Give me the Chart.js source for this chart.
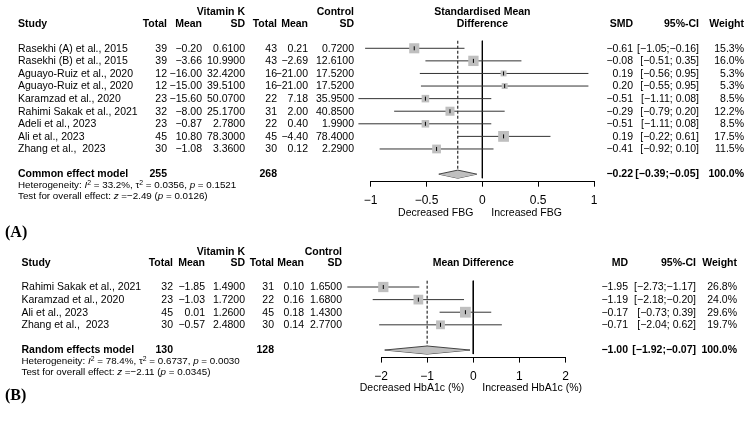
<!DOCTYPE html>
<html>
<head>
<meta charset="utf-8">
<script src="https://cdn.jsdelivr.net/npm/chart.js@4.4.0/dist/chart.umd.min.js"></script>
<style>
    body { margin: 0; background: #fff; }
    #wrap {
        position: relative; width: 749px; height: 426px; overflow: hidden;
        font-family: "Liberation Sans", Arial, sans-serif; color: #000;
    }
    canvas { position: absolute; left: 0; }
    .t { position: absolute; white-space: pre; line-height: 1; }
    .t sup { font-size: 0.7em; vertical-align: 0.5em; line-height: 0; }
</style>
</head>
<body>
<div id="wrap">
    <canvas id="chartA" width="749" height="240" style="top:0px"></canvas>
    <canvas id="chartB" width="749" height="186" style="top:240px"></canvas>
</div>
<script>
// --- Panel A: fasting blood glucose, standardised mean difference -------

const studiesA = ['Rasekhi (A) et al., 2015', 'Rasekhi (B) et al., 2015', 'Aguayo-Ruiz et al., 2020',
    'Aguayo-Ruiz et al., 2020', 'Karamzad et al., 2020', 'Rahimi Sakak et al., 2021',
    'Adeli et al., 2023', 'Ali et al., 2023', 'Zhang et al.,  2023'];
const vkTotalA = [39, 39, 12, 12, 23, 32, 23, 45, 30];
const vkMeanA = [-0.20, -3.66, -16.00, -15.00, -15.60, -8.00, -0.87, 10.80, -1.08];
const vkSdA = [0.61, 10.99, 32.42, 39.51, 50.07, 25.17, 2.78, 78.30, 3.36];
const ctTotalA = [43, 43, 16, 16, 22, 31, 22, 45, 30];
const ctMeanA = [0.21, -2.69, -21.00, -21.00, 7.18, 2.00, 0.40, -4.40, 0.12];
const ctSdA = [0.72, 12.61, 17.52, 17.52, 35.95, 40.85, 1.99, 78.40, 2.29];
const smdA = [-0.61, -0.08, 0.19, 0.20, -0.51, -0.29, -0.51, 0.19, -0.41];
const lowerA = [-1.05, -0.51, -0.56, -0.55, -1.11, -0.79, -1.11, -0.22, -0.92];
const upperA = [-0.16, 0.35, 0.95, 0.95, 0.08, 0.20, 0.08, 0.61, 0.10];
const weightA = [15.3, 16.0, 5.3, 5.3, 8.5, 12.2, 8.5, 17.5, 11.5];
const pooledA = [-0.22, -0.39, -0.05]; // estimate, lower, upper
const totalsA = [255, 268];
const hetA = ['33.2%', '0.0356', '0.1521'];
const testA = [-2.49, '0.0126'];
const ticksA = [-1, -0.5, 0, 0.5, 1];

// --- Panel B: HbA1c, mean difference ------------------------------------

const studiesB = ['Rahimi Sakak et al., 2021', 'Karamzad et al., 2020', 'Ali et al., 2023', 'Zhang et al.,  2023'];
const vkTotalB = [32, 23, 45, 30];
const vkMeanB = [-1.85, -1.03, 0.01, -0.57];
const vkSdB = [1.49, 1.72, 1.26, 2.48];
const ctTotalB = [31, 22, 45, 30];
const ctMeanB = [0.10, 0.16, 0.18, 0.14];
const ctSdB = [1.65, 1.68, 1.43, 2.77];
const mdB = [-1.95, -1.19, -0.17, -0.71];
const lowerB = [-2.73, -2.18, -0.73, -2.04];
const upperB = [-1.17, -0.20, 0.39, 0.62];
const weightB = [26.8, 24.0, 29.6, 19.7];
const pooledB = [-1.00, -1.92, -0.07];
const totalsB = [130, 128];
const hetB = ['78.4%', '0.6737', '0.0030'];
const testB = [-2.11, '0.0345'];
const ticksB = [-2, -1, 0, 1, 2];

// --- Helpers ------------------------------------------------------------

const MINUS = '\u2212';
const FONT = '"Liberation Sans", Arial, sans-serif';
const fmt = (v, d) => (v < 0 ? MINUS : '') + Math.abs(v).toFixed(d);
const fmtCI = (lo, hi) => '[' + fmt(lo, 2) + ';' + (hi < 0 ? '' : ' ') + fmt(hi, 2) + ']';
const wrap = document.getElementById('wrap');

Chart.defaults.font.family = FONT;

function put(html, x, y, align, opts = {}) {
    const size = opts.size || 10.5;
    const el = document.createElement('div');
    el.className = 't';
    el.innerHTML = html;
    el.style.fontSize = size + 'px';
    if (opts.bold) el.style.fontWeight = 'bold';
    if (opts.serif) el.style.fontFamily = '"Liberation Serif", "Times New Roman", serif';
    el.style.top = (y - size * 0.54) + 'px';
    if (align === 'right') {
        el.style.right = (749 - x) + 'px';
    } else if (align === 'center') {
        el.style.left = (x - 150) + 'px';
        el.style.width = '300px';
        el.style.textAlign = 'center';
    } else {
        el.style.left = x + 'px';
    }
    wrap.appendChild(el);
}

function line(points, extra) {
    return Object.assign({
        showLine: true, data: points, borderColor: '#000', borderWidth: 1,
        pointRadius: 0, clip: false, tension: 0,
    }, extra);
}

function forestChart(p) {
    const n = p.est.length;
    const wmax = Math.max(...p.weight);
    const pts = p.est.map((e, i) => ({ x: e, y: i + 1 }));
    const dRow = n + 2;       // diamond row, one blank row below the studies
    const dh = 0.32;          // diamond half height in rows
    const [pe, plo, phi] = p.pooled;

    const datasets = [];
    // reference lines
    datasets.push(line([{ x: 0, y: p.refTop }, { x: 0, y: dRow + dh }], { order: 6 }));
    datasets.push(line([{ x: pe, y: p.refTop }, { x: pe, y: dRow - dh }], { order: 6, borderDash: [3, 2] }));
    // confidence intervals
    p.est.forEach((e, i) => {
        datasets.push(line([{ x: p.lower[i], y: i + 1 }, { x: p.upper[i], y: i + 1 }], { order: 5, borderColor: '#333' }));
    });
    // study squares, area proportional to weight
    datasets.push({
        data: pts, pointStyle: 'rect', clip: false, order: 2,
        pointRadius: p.weight.map((w) => 10.8 * Math.sqrt(w / wmax) / Math.SQRT2),
        pointBackgroundColor: '#bfbfbf', pointBorderWidth: 0, pointBorderColor: 'rgba(0,0,0,0)',
    });
    // small estimate marks
    datasets.push({
        data: pts, pointStyle: 'line', pointRotation: 90, pointRadius: 2, clip: false, order: 1,
        pointBorderColor: '#000', pointBorderWidth: 1,
    });
    // pooled diamond: upper half filled down to lower half
    datasets.push(line([{ x: plo, y: dRow }, { x: pe, y: dRow - dh }, { x: phi, y: dRow }],
        { order: 3, fill: '+1', backgroundColor: '#bfbfbf', borderColor: '#444' }));
    datasets.push(line([{ x: plo, y: dRow }, { x: pe, y: dRow + dh }, { x: phi, y: dRow }],
        { order: 3, fill: false, borderColor: '#444' }));

    return new Chart(document.getElementById(p.canvas), {
        type: 'scatter',
        data: { datasets },
        options: {
            responsive: false,
            animation: false,
            events: [],
            layout: { padding: p.pad },
            plugins: { legend: { display: false }, tooltip: { enabled: false } },
            scales: {
                x: {
                    type: 'linear',
                    min: p.ticks[0],
                    max: p.ticks[p.ticks.length - 1],
                    afterBuildTicks: (axis) => { axis.ticks = p.ticks.map((v) => ({ value: v })); },
                    afterFit: (axis) => { axis.height = 40; },
                    ticks: {
                        callback: (v) => String(v).replace('-', MINUS),
                        color: '#000', font: { size: 12 }, padding: 7,
                        maxRotation: 0, autoSkip: false,
                    },
                    grid: { drawOnChartArea: false, drawTicks: true, tickLength: 5, color: '#000', lineWidth: 1 },
                    border: { display: true, color: '#000', width: 1 },
                },
                y: { type: 'linear', reverse: true, min: 0, max: p.rowMax, display: false },
            },
        },
    });
}

function forestText(chart, p) {
    const ys = chart.scales.y;
    const xs = chart.scales.x;
    const rowY = (r) => p.top + ys.getPixelForValue(r);
    const x0 = xs.getPixelForValue(0);
    const c = p.cols;
    const b = { bold: true };

    // headers
    put('Vitamin K', c.vkSd, p.hdr1, 'right', b);
    put('Control', c.ctSd, p.hdr1, 'right', b);
    p.title.forEach((t, k) => put(t, x0, p.title.length === 2 ? [p.hdr1, p.hdr2][k] : p.hdr2, 'center', b));
    put('Study', c.study, p.hdr2, 'left', b);
    put('Total', c.vkTotal, p.hdr2, 'right', b);
    put('Mean', c.vkMean, p.hdr2, 'right', b);
    put('SD', c.vkSd, p.hdr2, 'right', b);
    put('Total', c.ctTotal, p.hdr2, 'right', b);
    put('Mean', c.ctMean, p.hdr2, 'right', b);
    put('SD', c.ctSd, p.hdr2, 'right', b);
    put(p.estLabel, c.est, p.hdr2, 'right', b);
    put('95%-CI', c.ci, p.hdr2, 'right', b);
    put('Weight', c.weight, p.hdr2, 'right', b);

    // study rows
    p.studies.forEach((s, i) => {
        const y = rowY(i + 1);
        put(s, c.study, y, 'left');
        put(String(p.vkTotal[i]), c.vkTotal, y, 'right');
        put(fmt(p.vkMean[i], 2), c.vkMean, y, 'right');
        put(fmt(p.vkSd[i], 4), c.vkSd, y, 'right');
        put(String(p.ctTotal[i]), c.ctTotal, y, 'right');
        put(fmt(p.ctMean[i], 2), c.ctMean, y, 'right');
        put(fmt(p.ctSd[i], 4), c.ctSd, y, 'right');
        put(fmt(p.est[i], 2), c.est, y, 'right');
        put(fmtCI(p.lower[i], p.upper[i]), c.ci, y, 'right');
        put(p.weight[i].toFixed(1) + '%', c.weight, y, 'right');
    });

    // pooled row
    const yp = rowY(p.studies.length + 2);
    put(p.model, c.study, yp, 'left', b);
    put(String(p.totals[0]), c.vkTotal, yp, 'right', b);
    put(String(p.totals[1]), c.ctTotal, yp, 'right', b);
    put(fmt(p.pooled[0], 2), c.est, yp, 'right', b);
    put(fmtCI(p.pooled[1], p.pooled[2]), c.ci, yp, 'right', b);
    put('100.0%', c.weight, yp, 'right', b);

    const sm = { size: 9.8 };
    put(`Heterogeneity: <i>I</i><sup>2</sup> = ${p.het[0]}, \u03c4<sup>2</sup> = ${p.het[1]}, <i>p</i> = ${p.het[2]}`,
        c.study, yp + 11, 'left', sm);
    put(`Test for overall effect: <i>z</i> =${fmt(p.test[0], 2)} (<i>p</i> = ${p.test[1]})`,
        c.study, yp + 22.5, 'left', sm);

    // direction labels under the axis
    const yl = p.top + ys.bottom + 30.5;
    put(p.sides[0], x0 - 9, yl, 'right');
    put(p.sides[1], x0 + 9, yl, 'left');

    put(p.panel, 5, p.panelY, 'left', { serif: true, bold: true, size: 16 });
}

// --- Build both panels --------------------------------------------------

const panelA = {
    canvas: 'chartA', top: 0,
    studies: studiesA, vkTotal: vkTotalA, vkMean: vkMeanA, vkSd: vkSdA,
    ctTotal: ctTotalA, ctMean: ctMeanA, ctSd: ctSdA,
    est: smdA, lower: lowerA, upper: upperA, weight: weightA, pooled: pooledA,
    totals: totalsA, het: hetA, test: testA, ticks: ticksA,
    pad: { left: 370.7, right: 155, top: 35.7, bottom: 18.3 },
    rowMax: 11.6, refTop: 0.4,
    cols: { study: 18, vkTotal: 167, vkMean: 202, vkSd: 245, ctTotal: 277, ctMean: 308, ctSd: 354,
        est: 633, ci: 699, weight: 744 },
    hdr1: 11.5, hdr2: 23.5,
    title: ['Standardised Mean', 'Difference'], estLabel: 'SMD',
    model: 'Common effect model', sides: ['Decreased FBG', 'Increased FBG'],
    panel: '(A)', panelY: 233,
};

const panelB = {
    canvas: 'chartB', top: 240,
    studies: studiesB, vkTotal: vkTotalB, vkMean: vkMeanB, vkSd: vkSdB,
    ctTotal: ctTotalB, ctMean: ctMeanB, ctSd: ctSdB,
    est: mdB, lower: lowerB, upper: upperB, weight: weightB, pooled: pooledB,
    totals: totalsB, het: hetB, test: testB, ticks: ticksB,
    pad: { left: 381, right: 183.5, top: 34.4, bottom: 28.4 },
    rowMax: 6.6, refTop: 0.5,
    cols: { study: 21.5, vkTotal: 173, vkMean: 205, vkSd: 245, ctTotal: 274, ctMean: 304, ctSd: 342,
        est: 628, ci: 696, weight: 737 },
    hdr1: 252, hdr2: 263,
    title: ['Mean Difference'], estLabel: 'MD',
    model: 'Random effects model', sides: ['Decreased HbA1c (%)', 'Increased HbA1c (%)'],
    panel: '(B)', panelY: 396,
};

[panelA, panelB].forEach((p) => {
    const chart = forestChart(p);
    forestText(chart, p);
});
</script>
</body>
</html>
